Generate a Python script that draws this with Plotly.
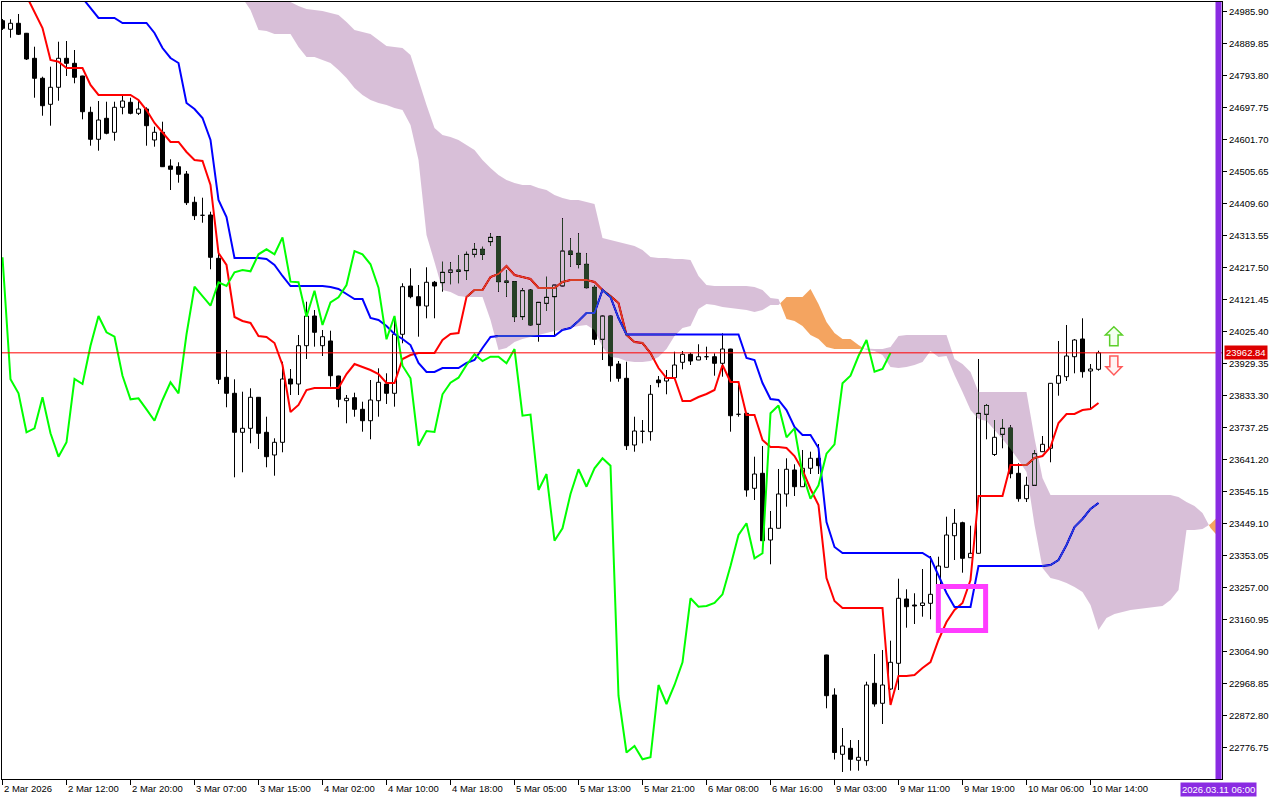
import plotly.graph_objects as go

# ---------------- data (H1 bars) ----------------
opens = [24959.8, 24934.0, 24952.0, 24922.0, 24846.9, 24786.9, 24708.8, 24759.9, 24846.9, 24831.9,
         24793.8, 24684.8, 24603.8, 24666.8, 24624.8, 24699.8, 24714.8, 24681.8, 24694.7, 24601.7,
         24624.8, 24523.6, 24521.5, 24499.6, 24414.7, 24375.7, 24376.6, 24246.6, 23889.4, 23841.4,
         23724.3, 23736.3, 23829.4, 23724.3, 23656.2, 23694.3, 23884.3, 23869.3, 23984.3, 24073.4,
         23984.3, 23998.4, 23893.3, 23819.2, 23828.2, 23793.3, 23759.1, 23819.2, 23869.3, 23841.4,
         24018.5, 24163.4, 24131.3, 24103.4, 24174.6, 24173.4, 24204.6, 24211.5, 24209.4, 24258.6,
         24273.6, 24296.4, 24311.4, 24178.5, 24176.4, 24071.3, 24151.4, 24048.5, 24111.5, 24131.3,
         24163.4, 24268.5, 24261.6, 24228.6, 24159.5, 24003.5, 24073.4, 23929.3, 23886.4, 23686.2,
         23727.3, 23726.1, 23881.3, 23878.3, 23888.2, 23934.4, 23958.4, 23941.3, 23951.2, 23951.2,
         23931.4, 23974.3, 23778.3, 23781.3, 23556.2, 23601.2, 23401.0, 23436.2, 23539.1, 23611.2,
         23561.0, 23616.3, 23646.3, 23055.9, 22935.8, 22757.8, 22775.8, 22739.8, 22738.6, 22970.9,
         22910.9, 22953.8, 23030.9, 23223.9, 23205.9, 23204.4, 23211.0, 23257.0, 23319.1, 23413.9,
         23453.0, 23347.9, 23361.1, 23778.3, 23657.7, 23718.3, 23737.2, 23601.2, 23525.0, 23565.2,
         23666.1, 23676.3, 23871.4, 23891.2, 23951.2, 24004.4, 23908.3, 23913.4]
highs = [24964.9, 24964.0, 24979.9, 24922.9, 24881.7, 24791.7, 24821.7, 24896.7, 24898.8, 24871.8,
         24794.5, 24701.6, 24718.7, 24716.6, 24716.6, 24733.8, 24728.6, 24721.7, 24699.8, 24641.6,
         24656.6, 24543.8, 24534.7, 24508.6, 24431.5, 24428.5, 24386.5, 24261.6, 23971.3, 23883.4,
         23846.2, 23856.4, 23830.0, 23771.1, 23706.3, 23936.2, 23914.3, 24016.4, 24116.3, 24091.4,
         24031.4, 24029.3, 23894.0, 23836.3, 23843.2, 23816.2, 23881.3, 23916.4, 23901.4, 24071.3,
         24171.6, 24216.6, 24166.4, 24219.6, 24178.5, 24236.4, 24234.6, 24256.5, 24266.4, 24291.6,
         24281.4, 24321.6, 24312.0, 24211.5, 24177.0, 24156.5, 24153.5, 24115.0, 24191.4, 24166.4,
         24366.7, 24306.6, 24321.6, 24261.6, 24166.4, 24076.4, 24074.0, 23938.3, 23936.2, 23771.1,
         23761.2, 23866.3, 23893.3, 23911.3, 23966.2, 23968.3, 23963.2, 23988.5, 23981.3, 23961.4,
         24021.5, 23975.0, 23866.3, 23782.0, 23651.1, 23683.2, 23488.1, 23614.2, 23646.3, 23628.3,
         23671.2, 23666.1, 23689.2, 23056.5, 22955.9, 22836.7, 22800.7, 22800.7, 22975.7, 23058.9,
         23070.9, 23098.8, 23284.9, 23253.1, 23241.1, 23314.0, 23353.0, 23350.9, 23471.0, 23494.1,
         23456.0, 23444.0, 23944.3, 23809.3, 23761.2, 23764.2, 23745.3, 23631.3, 23591.0, 23671.2,
         23713.2, 23872.0, 23998.4, 24046.4, 24004.4, 24066.5, 23929.3, 23969.2]
lows = [24931.9, 24908.7, 24916.8, 24841.8, 24728.6, 24674.6, 24644.6, 24719.6, 24793.8, 24771.9,
        24663.8, 24584.6, 24569.6, 24618.8, 24599.6, 24678.8, 24678.8, 24676.7, 24584.6, 24581.6,
        24521.0, 24451.6, 24473.5, 24406.6, 24361.6, 24353.4, 24213.6, 23869.3, 23799.4, 23589.2,
        23604.2, 23691.3, 23674.2, 23619.3, 23594.0, 23664.3, 23836.3, 23836.3, 23944.3, 23981.3,
        23953.3, 23861.2, 23799.4, 23751.3, 23771.1, 23726.1, 23703.3, 23771.1, 23809.3, 23801.2,
        23991.5, 24126.5, 24011.3, 24066.5, 24066.5, 24146.3, 24168.6, 24171.6, 24181.5, 24249.6,
        24241.5, 24283.5, 24146.3, 24131.3, 24056.3, 24061.4, 24043.4, 23996.3, 24088.4, 24011.3,
        24163.0, 24221.4, 24216.6, 24156.5, 23986.3, 23941.3, 23876.2, 23876.2, 23671.2, 23666.1,
        23691.3, 23699.1, 23859.4, 23838.4, 23888.0, 23913.4, 23926.3, 23941.0, 23941.3, 23894.2,
        23891.2, 23726.1, 23771.1, 23531.0, 23521.1, 23398.5, 23328.1, 23436.0, 23501.0, 23533.1,
        23560.8, 23599.1, 23599.1, 22895.9, 22742.2, 22704.7, 22708.6, 22708.6, 22723.6, 22900.7,
        22848.7, 22950.8, 22950.8, 23137.8, 23148.9, 23170.8, 23163.0, 23236.0, 23319.0, 23341.0,
        23302.9, 23347.5, 23360.8, 23703.3, 23653.2, 23676.3, 23586.2, 23516.0, 23515.1, 23564.0,
        23665.8, 23634.3, 23834.2, 23878.3, 23901.4, 23888.2, 23793.3, 23909.2]
closes = [24937.0, 24952.0, 24919.0, 24844.8, 24786.9, 24704.6, 24759.9, 24846.9, 24831.9, 24789.9,
          24686.6, 24603.8, 24661.7, 24621.8, 24699.8, 24718.7, 24681.8, 24694.7, 24644.6, 24624.8,
          24521.5, 24513.7, 24498.7, 24413.5, 24374.5, 24373.6, 24249.6, 23883.4, 23841.4, 23724.3,
          23736.3, 23829.4, 23721.3, 23651.1, 23694.3, 23884.3, 23869.3, 23984.3, 24073.4, 24024.5,
          24011.3, 23894.2, 23823.4, 23826.4, 23793.3, 23759.1, 23821.3, 23874.4, 23841.4, 24018.5,
          24161.3, 24131.3, 24104.3, 24174.6, 24163.4, 24204.6, 24211.5, 24207.6, 24258.6, 24273.6,
          24258.6, 24309.6, 24176.4, 24174.6, 24071.3, 24149.3, 24046.4, 24114.5, 24129.5, 24166.4,
          24268.5, 24258.6, 24228.6, 24158.3, 24003.5, 24073.4, 23924.2, 23886.4, 23684.1, 23728.2,
          23725.2, 23838.4, 23873.2, 23888.2, 23926.3, 23958.4, 23938.3, 23951.2, 23951.0, 23931.4,
          23974.3, 23774.1, 23777.4, 23551.1, 23599.1, 23398.9, 23436.2, 23539.1, 23613.3, 23561.0,
          23616.3, 23646.3, 23624.1, 22933.7, 22763.2, 22782.7, 22742.8, 22748.8, 22965.8, 22908.8,
          22965.8, 23033.9, 23226.0, 23200.8, 23202.9, 23211.9, 23238.0, 23323.0, 23416.0, 23451.2,
          23346.1, 23361.1, 23781.3, 23804.8, 23709.3, 23736.3, 23600.0, 23525.0, 23565.2, 23660.1,
          23688.3, 23871.4, 23894.2, 23953.3, 24001.4, 23906.2, 23914.3, 23962.84]

# Tenkan-sen (red), first value at bar 3
tenkan_start = 3
tenkan = [25033.9, 24985.9, 24937.9, 24841.8, 24836.7, 24817.8, 24817.8, 24817.8, 24766.8, 24736.8,
          24736.8, 24736.8, 24736.8, 24736.8, 24721.7, 24691.7, 24652.7, 24622.7, 24595.7, 24595.7,
          24565.7, 24541.6, 24538.6, 24466.6, 24262.5, 24226.5, 24070.4, 24058.4, 24052.4, 24013.4,
          24010.4, 23992.3, 23926.3, 23785.2, 23806.3, 23851.3, 23857.3, 23857.3, 23857.3, 23857.3,
          23899.3, 23929.3, 23920.3, 23911.3, 23899.3, 23872.3, 23872.3, 23944.3, 23956.3, 23962.3,
          23962.3, 23962.3, 24001.4, 24019.4, 24022.4, 24130.4, 24151.4, 24151.4, 24190.5, 24199.5,
          24223.5, 24196.5, 24190.5, 24184.5, 24157.4, 24157.4, 24157.4, 24175.5, 24181.5, 24181.5,
          24181.5, 24175.5, 24151.4, 24133.4, 24112.4, 24016.4, 23995.4, 23992.3, 23962.3, 23917.3,
          23887.3, 23887.3, 23818.3, 23818.3, 23830.3, 23839.3, 23851.3, 23926.3, 23875.3, 23875.3,
          23776.2, 23776.2, 23701.2, 23680.2, 23680.2, 23677.2, 23653.2, 23611.2, 23554.1, 23506.1,
          23287.0, 23217.9, 23196.9, 23196.9, 23196.9, 23196.9, 23196.9, 23196.9, 22905.8, 22992.8,
          22992.8, 22995.8, 23016.8, 23034.8, 23100.9, 23154.9, 23190.9, 23211.9, 23281.0, 23533.1,
          23533.1, 23533.1, 23533.1, 23626.2, 23626.2, 23626.2, 23647.2, 23653.2, 23680.2, 23752.2,
          23779.2, 23779.2, 23791.2, 23794.3, 23812.3]

# Kijun-sen (blue), first value at bar 10
kijun_start = 10
kijun = [25027.9, 24997.9, 24967.9, 24967.9, 24967.9, 24952.9, 24952.9, 24952.9, 24952.9, 24922.9,
         24877.8, 24847.8, 24832.8, 24712.7, 24694.7, 24667.7, 24601.7, 24421.6, 24370.6, 24247.5,
         24247.5, 24247.5, 24247.5, 24244.5, 24226.5, 24193.5, 24163.4, 24163.4, 24163.4, 24163.4,
         24163.4, 24160.4, 24154.4, 24139.4, 24124.4, 24124.4, 24067.4, 24061.4, 24043.4, 24019.4,
         24004.4, 23986.3, 23932.3, 23905.3, 23905.3, 23917.3, 23917.3, 23917.3, 23932.3, 23941.3,
         23977.3, 24010.4, 24013.4, 24013.4, 24013.4, 24013.4, 24013.4, 24013.4, 24013.4, 24013.4,
         24031.4, 24037.4, 24058.4, 24082.4, 24082.4, 24151.4, 24130.4, 24067.4, 24017.9, 24017.9,
         24017.9, 24017.9, 24017.9, 24017.9, 24017.9, 24017.9, 24017.9, 24017.9, 24017.9, 24017.9,
         24017.9, 24017.9, 24017.9, 23947.3, 23941.3, 23872.3, 23824.3, 23821.3, 23791.2, 23740.2,
         23716.2, 23716.2, 23677.2, 23455.1, 23380.0, 23362.0, 23362.0, 23362.0, 23362.0, 23362.0,
         23362.0, 23362.0, 23362.0, 23362.0, 23362.0, 23362.0, 23347.0, 23293.0, 23242.0, 23199.9,
         23199.9, 23199.9, 23323.0, 23323.0, 23323.0, 23323.0, 23323.0, 23323.0, 23323.0, 23323.0,
         23323.0, 23326.0, 23341.0, 23386.0, 23440.1, 23464.1, 23494.1, 23512.1]

# Senkou spans (already shifted forward), first value at bar 30
cloud_start = 30
span_a = [25027.9, 24991.9, 24931.9, 24928.9, 24919.8, 24919.8, 24919.8, 24880.8, 24850.8, 24850.8,
          24841.8, 24832.8, 24811.8, 24787.8, 24757.8, 24736.8, 24721.7, 24712.7, 24706.7, 24697.7,
          24691.7, 24646.7, 24541.6, 24316.5, 24235.5, 24151.4, 24145.4, 24133.4, 24130.4, 24130.4,
          24130.4, 24061.4, 23971.3, 23977.3, 23995.4, 24004.4, 24010.4, 24016.4, 24022.4, 24028.4,
          24031.4, 24037.4, 24043.4, 24046.4, 24031.4, 23980.3, 23950.3, 23947.3, 23938.3, 23935.3,
          23935.3, 23938.3, 23950.3, 23974.3, 24013.4, 24037.4, 24043.4, 24094.4, 24109.4, 24106.4,
          24100.4, 24097.4, 24094.4, 24091.4, 24085.4, 24091.4, 24106.4, 24106.4, 24130.4, 24130.4,
          24130.4, 24154.4, 24109.4, 24055.4, 24022.4, 24004.4, 24004.4, 23986.3, 23971.3, 23968.3,
          23956.3, 23920.3, 23917.3, 23920.3, 23926.3, 23935.3, 23968.3, 23950.3, 23953.3, 23896.3,
          23845.3, 23791.2, 23764.2, 23758.2, 23731.2, 23704.2, 23674.2, 23641.2, 23605.1, 23446.1,
          23317.0, 23287.0, 23281.0, 23272.0, 23260.0, 23245.0, 23205.9, 23130.9, 23166.9, 23178.9,
          23184.9, 23190.9, 23193.9, 23196.9, 23199.9, 23202.9, 23220.9, 23251.0, 23431.1, 23431.1,
          23434.1, 23449.1, 23473.1]
span_b = [25262.0, 25232.0, 25202.0, 25172.0, 25111.9, 25066.9, 25015.9, 25003.9, 24994.9, 24991.9,
          24988.9, 24982.9, 24976.9, 24955.9, 24931.9, 24925.9, 24919.8, 24901.8, 24883.8, 24880.8,
          24877.8, 24856.8, 24781.8, 24706.7, 24637.7, 24616.7, 24610.7, 24601.7, 24586.7, 24571.7,
          24541.6, 24517.6, 24496.6, 24481.6, 24472.6, 24466.6, 24466.6, 24457.6, 24451.6, 24436.6,
          24427.6, 24421.6, 24421.6, 24415.6, 24409.6, 24307.5, 24301.5, 24295.5, 24289.5, 24283.5,
          24271.5, 24250.5, 24247.5, 24247.5, 24244.5, 24244.5, 24241.5, 24193.5, 24166.4, 24163.4,
          24163.4, 24163.4, 24163.4, 24163.4, 24160.4, 24151.4, 24127.4, 24124.4, 24064.4, 24058.4,
          24043.4, 24016.4, 24004.4, 23980.3, 23974.3, 23974.3, 23974.3, 23974.3, 23975.8, 23974.3,
          23974.3, 23980.3, 24013.4, 24016.4, 24016.4, 24016.4, 24016.4, 24016.4, 24016.4, 23944.3,
          23929.3, 23905.3, 23845.3, 23845.3, 23845.3, 23845.3, 23845.3, 23845.3, 23845.3, 23707.2,
          23587.1, 23536.1, 23536.1, 23536.1, 23536.1, 23536.1, 23536.1, 23536.1, 23536.1, 23536.1,
          23536.1, 23536.1, 23536.1, 23536.1, 23536.1, 23536.1, 23536.1, 23530.1, 23515.1, 23503.1,
          23482.1, 23437.1, 23410.0]

chikou_shift = 26
current_price = 23962.84

time_labels = ["2 Mar 2026", "2 Mar 12:00", "2 Mar 20:00", "3 Mar 07:00", "3 Mar 15:00",
               "4 Mar 02:00", "4 Mar 10:00", "4 Mar 18:00", "5 Mar 05:00", "5 Mar 13:00",
               "5 Mar 21:00", "6 Mar 08:00", "6 Mar 16:00", "9 Mar 03:00", "9 Mar 11:00",
               "9 Mar 19:00", "10 Mar 06:00", "10 Mar 14:00"]
time_label_bars = [0, 8, 16, 24, 32, 40, 48, 56, 64, 72, 80, 88, 96, 104, 112, 120, 128, 136]

price_ticks = [22776.75, 22872.80, 22968.85, 23064.90, 23160.95, 23257.00, 23353.05, 23449.10,
               23545.15, 23641.20, 23737.25, 23833.30, 23929.35, 24025.40, 24121.45, 24217.50,
               24313.55, 24409.60, 24505.65, 24601.70, 24697.75, 24793.80, 24889.85, 24985.90]

vline_bar = 152
vline_label = "2026.03.11 06:00"
box_bars = [116.98, 122.89]
box_prices = [23129.4, 23261.5]
arrow_bar = 138.92
arrow_up_price = 24012.8
arrow_down_price = 23924.8

# ---------------- figure ----------------
XMIN = -0.0625
XMAX = XMIN + 1220 / 8.0
YMIN, YMAX = 22683.65, 25015.9
FONT = "Liberation Sans"

fig = go.Figure()

# white backdrop inside the plotting layer (needed for the cloud blending)
fig.add_trace(go.Scatter(x=[-5, 200, 200, -5], y=[20000, 20000, 27000, 27000], mode="none",
                         fill="toself", fillcolor="white", hoverinfo="skip"))

# candles
n = len(closes)
wx, wy = [], []
for i in range(n):
    wx += [i, i, None]
    wy += [lows[i], highs[i], None]
fig.add_trace(go.Scatter(x=wx, y=wy, mode="lines", line=dict(color="black", width=1),
                         hoverinfo="skip"))
W = 0.25
bx_up, by_up, bx_dn, by_dn = [], [], [], []
for i in range(n):
    o, c = opens[i], closes[i]
    xs = [i - W, i + W, i + W, i - W, i - W, None]
    ys = [o, o, c, c, o, None]
    if c > o:
        bx_up += xs; by_up += ys
    else:
        bx_dn += xs; by_dn += ys
fig.add_trace(go.Scatter(x=bx_up, y=by_up, mode="lines", fill="toself", fillcolor="white",
                         line=dict(color="black", width=1), hoverinfo="skip"))
fig.add_trace(go.Scatter(x=bx_dn, y=by_dn, mode="lines", fill="toself", fillcolor="black",
                         line=dict(color="black", width=1), hoverinfo="skip"))

# tenkan / kijun
fig.add_trace(go.Scatter(x=list(range(tenkan_start, tenkan_start + len(tenkan))), y=tenkan,
                         mode="lines", line=dict(color="#ff0000", width=2), hoverinfo="skip"))
fig.add_trace(go.Scatter(x=list(range(kijun_start, kijun_start + len(kijun))), y=kijun,
                         mode="lines", line=dict(color="#0000ff", width=2), hoverinfo="skip"))

# cloud polygons
cidx = list(range(cloud_start, cloud_start + len(span_a)))
polys = []
cur, up, lo = None, [], []
for k in range(len(cidx)):
    d = span_a[k] - span_b[k]
    s = 1 if d > 0 else -1
    if cur is None:
        cur = s
    elif s != cur:
        d0 = span_a[k - 1] - span_b[k - 1]
        t = d0 / (d0 - d)
        xc = cidx[k - 1] + t * (cidx[k] - cidx[k - 1])
        yc = span_a[k - 1] + t * (span_a[k] - span_a[k - 1])
        up.append((xc, yc)); lo.append((xc, yc))
        polys.append((cur, up, lo))
        up, lo = [(xc, yc)], [(xc, yc)]
        cur = s
    up.append((cidx[k], max(span_a[k], span_b[k])))
    lo.append((cidx[k], min(span_a[k], span_b[k])))
polys.append((cur, up, lo))

for col, sign in (("#D8BFD8", -1), ("#F4A460", 1)):
    px, py = [], []
    for s, u, l in polys:
        if s != sign:
            continue
        pts = u + l[::-1]
        px += [p[0] for p in pts] + [None]
        py += [p[1] for p in pts] + [None]
    if px:
        fig.add_trace(go.Scatter(x=px, y=py, mode="none", fill="toself", fillcolor=col,
                                 hoverinfo="skip"))

# chikou span
fig.add_trace(go.Scatter(x=list(range(0, n - chikou_shift)), y=closes[chikou_shift:],
                         mode="lines", line=dict(color="#00ff00", width=2), hoverinfo="skip"))

shapes = [
    dict(type="line", xref="paper", yref="y", x0=0, x1=1, y0=current_price, y1=current_price,
         line=dict(color="#ff0000", width=1), layer="above"),
    dict(type="line", xref="x", yref="paper", x0=vline_bar, x1=vline_bar, y0=0, y1=1,
         line=dict(color="#8A2BE2", width=6), layer="above"),
    dict(type="rect", xref="x", yref="y", x0=box_bars[0], x1=box_bars[1], y0=box_prices[0],
         y1=box_prices[1], line=dict(color="#ff3cff", width=5), layer="above"),
    dict(type="path", xref="x", yref="y", xsizemode="pixel", ysizemode="pixel",
         xanchor=arrow_bar, yanchor=arrow_up_price,
         path="M 0 9.5 L 8.5 1.2 L 4.2 1.2 L 4.2 -9.5 L -4.2 -9.5 L -4.2 1.2 L -8.5 1.2 Z",
         line=dict(color="#5ccf2a", width=1.5), fillcolor="#f4fff0", layer="above"),
    dict(type="path", xref="x", yref="y", xsizemode="pixel", ysizemode="pixel",
         xanchor=arrow_bar, yanchor=arrow_down_price,
         path="M -4 9.5 L 4 9.5 L 4 -1.2 L 8 -1.2 L 0 -9.5 L -8 -1.2 L -4 -1.2 Z",
         line=dict(color="#ff5a5a", width=1.5), fillcolor="#fff4f4", layer="above"),
]

annotations = []
for b, t in zip(time_label_bars, time_labels):
    annotations.append(dict(x=b, y=0, xref="x", yref="paper", xanchor="left", yanchor="top",
                            yshift=-2, xshift=-1, text=t, showarrow=False,
                            font=dict(family=FONT, size=9.5, color="black")))
annotations.append(dict(x=1, xref="paper", y=current_price, yref="y", xanchor="left",
                        yanchor="middle", xshift=2, text=f"{current_price:.2f}", showarrow=False,
                        bgcolor="#dd0000", borderpad=1,
                        font=dict(family=FONT, size=9.5, color="white")))
annotations.append(dict(x=vline_bar, xref="x", y=0, yref="paper", xanchor="center",
                        yanchor="top", yshift=-3, text=vline_label, showarrow=False,
                        bgcolor="#8A2BE2", borderpad=1,
                        font=dict(family=FONT, size=9.5, color="white")))

fig.update_layout(
    width=1280, height=800,
    margin=dict(l=2, r=58, t=2, b=21),
    paper_bgcolor="white", plot_bgcolor="white",
    showlegend=False,
    xaxis=dict(range=[XMIN, XMAX], showgrid=False, zeroline=False, showline=True,
               linecolor="black", linewidth=1, mirror=True, ticks="outside", ticklen=5,
               tickcolor="black", tickwidth=1, tickvals=time_label_bars, showticklabels=False,
               fixedrange=True),
    yaxis=dict(range=[YMIN, YMAX], side="right", showgrid=False, zeroline=False, showline=True,
               linecolor="black", linewidth=1, mirror=True, ticks="outside", ticklen=4,
               tickcolor="black", tickwidth=1, tickvals=price_ticks,
               ticktext=[f"{v:.2f}" for v in price_ticks],
               tickfont=dict(family=FONT, size=9.5, color="black"), fixedrange=True),
    shapes=shapes,
    annotations=annotations,
)

post = """
document.documentElement.style.margin = '0';
document.documentElement.style.padding = '0';
document.body.style.margin = '0';
document.body.style.padding = '0';
document.body.style.overflow = 'hidden';
var gd = document.getElementById('{plot_id}');
function blendCloud(){
  var paths = gd.querySelectorAll('path.js-fill');
  paths.forEach(function(p){
    var f = (p.style.fill || '').replace(/\\s/g, '');
    if (f === 'rgb(216,191,216)') { p.style.fill = 'rgb(39,64,39)'; p.style.mixBlendMode = 'difference'; }
    else if (f === 'rgb(244,164,96)') { p.style.fill = 'rgb(11,91,159)'; p.style.mixBlendMode = 'difference'; }
  });
}
blendCloud();
gd.on('plotly_afterplot', blendCloud);
"""

fig.write_html("out.html", post_script=post, config={"displayModeBar": False})
